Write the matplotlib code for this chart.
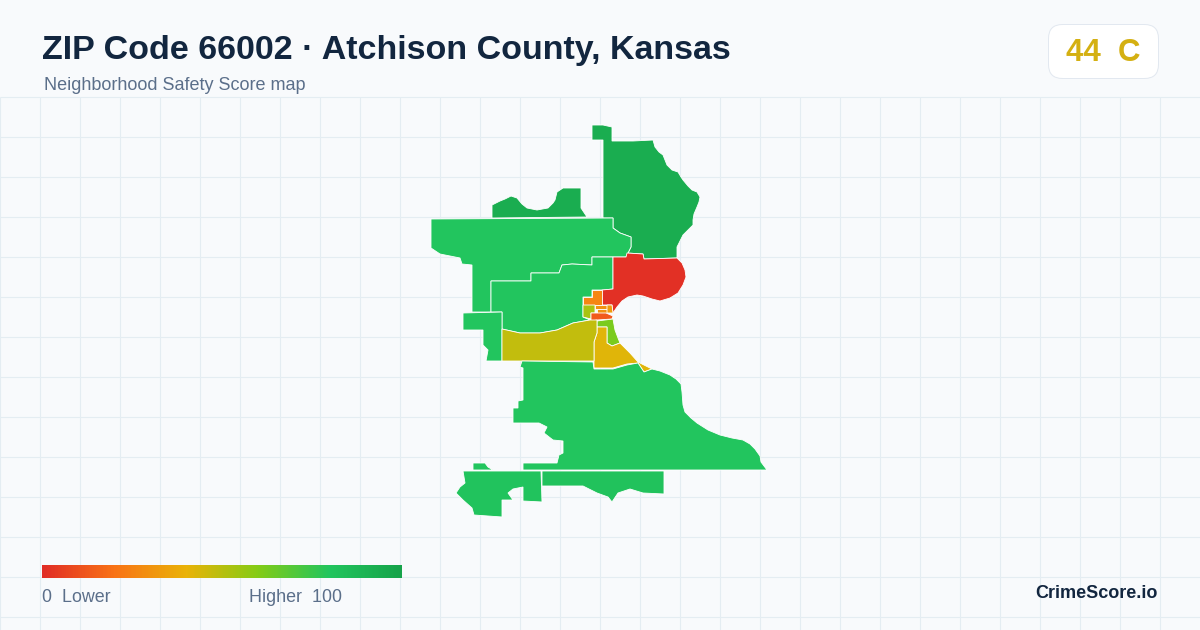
#!/usr/bin/env python3
import matplotlib

matplotlib.use("Agg")
import matplotlib.pyplot as plt
import numpy as np
from matplotlib.colors import LinearSegmentedColormap
from matplotlib.patches import FancyBboxPatch

plt.rcParams["font.family"] = ["Liberation Sans", "DejaVu Sans"]

TITLE = "ZIP Code 66002 · Atchison County, Kansas"
SUBTITLE = "Neighborhood Safety Score map"
SCORE_TEXT = "44  C"
BRAND = "CrimeScore.io"

# legend ramp stops
RAMP_STOPS = [0.0, 0.2, 0.4, 0.6, 0.8, 1.0]
RAMP_COLORS = ["#e12d26", "#f97316", "#eab308", "#84cc16", "#22c55e", "#16a34a"]

# block group outlines, traced in image pixels
north = [(592, 125), (603, 125), (612, 127), (612, 141), (633, 141), (653, 140), (655, 147), (659, 152), (663, 155),
         (665, 160), (667, 165), (672, 170), (678, 172), (681, 177), (683, 180), (688, 186), (692, 190), (697, 192),
         (700, 197), (699, 202), (697, 207), (694, 214), (693, 220), (693, 225), (688, 230), (683, 235), (680, 241),
         (677, 247), (677, 258), (644, 259), (643, 254), (627, 253), (626, 257), (631, 247),
         (631, 237), (620, 233), (613, 228), (613, 218), (603, 218), (603, 140), (592, 140)]
northwest_cap = [(492, 218), (492, 205), (500, 201), (505, 199), (511, 196), (517, 198), (522, 204), (527, 208),
                 (537, 210), (548, 208), (553, 203), (555, 200), (557, 192), (563, 188), (581, 188), (581, 208),
                 (587, 217)]
northwest = [(431, 219), (613, 218), (613, 228), (620, 233), (631, 237), (631, 247), (626, 257), (592, 257),
             (592, 265), (572, 264), (562, 265), (559, 273), (531, 273), (531, 281), (491, 281), (491, 312),
             (472, 312), (472, 265), (462, 264), (460, 258), (450, 256), (440, 254), (431, 248)]
middle = [(491, 281), (531, 281), (531, 273), (559, 273), (562, 265), (572, 264), (592, 265), (592, 257),
          (613, 257), (613, 289), (603, 290), (592, 290), (592, 297), (583, 297), (583, 317), (590, 320),
          (573, 323), (557, 330), (540, 333), (520, 333), (502, 329), (502, 312), (491, 312)]
west = [(463, 313), (502, 312), (502, 361), (486, 361), (488, 350), (483, 345), (483, 330), (463, 330)]
river_red = [(613, 257), (626, 257), (627, 253), (643, 254), (644, 259), (677, 258), (682, 263), (685, 270),
             (686, 277), (683, 285), (678, 293), (670, 298), (660, 301), (652, 299), (643, 296), (637, 295),
             (628, 297), (622, 301), (617, 307), (613, 313), (612, 305), (602, 305), (602, 290), (613, 289)]
orange_a = [(583, 297), (592, 297), (592, 290), (602, 290), (602, 305), (583, 305)]
lime_a = [(583, 305), (595, 305), (595, 313), (591, 313), (591, 319), (583, 317)]
orange_b = [(595, 305), (607, 305), (607, 309), (595, 309)]
orange_c = [(597, 309), (607, 309), (607, 313), (597, 313)]
orange_d = [(607, 305), (612, 305), (613, 313), (607, 313)]
red_orange = [(591, 313), (606, 313), (613, 316), (612, 319), (597, 320), (591, 321)]
lime_b = [(597, 327), (597, 321), (613, 319), (615, 330), (618, 338), (620, 343), (612, 346), (607, 343), (607, 327)]
yellow = [(597, 327), (607, 327), (607, 343), (612, 346), (620, 343), (630, 353), (638, 362), (652, 369), (644, 372),
          (638, 363), (627, 364), (613, 368), (594, 368), (594, 342), (597, 333)]
olive = [(502, 329), (520, 333), (540, 333), (557, 330), (573, 323), (590, 320), (597, 320), (597, 333),
         (594, 342), (594, 361), (502, 361)]
south = [(522, 361), (593, 362), (594, 369), (613, 369), (627, 365), (638, 363), (644, 372), (652, 369),
         (660, 371), (670, 375), (676, 379), (681, 384), (682, 392), (683, 405), (685, 412), (691, 418), (697, 423),
         (708, 430), (720, 435), (732, 438), (743, 440), (750, 444), (755, 449), (760, 456), (761, 462),
         (767, 470), (523, 470), (523, 463), (557, 463), (559, 455), (563, 453), (563, 441),
         (553, 440), (544, 433), (547, 427), (539, 423), (527, 423), (513, 423), (513, 408), (518, 408),
         (518, 401), (523, 400), (523, 368), (520, 367)]
south_tab = [(473, 463), (485, 463), (488, 467), (493, 470), (473, 470)]
southwest = [(463, 471), (541, 471), (542, 502), (523, 501), (523, 487), (513, 489), (508, 493), (513, 500),
             (502, 500), (502, 517), (488, 516), (474, 515), (472, 508), (463, 500), (456, 493), (460, 487),
             (465, 483)]
south_strip = [(542, 471), (664, 471), (664, 494), (643, 493), (630, 489), (618, 493), (612, 502), (608, 497),
               (597, 493), (583, 486), (542, 486)]

ZONES = [north, northwest_cap, northwest, middle, west, river_red, orange_a, lime_a, orange_b, orange_c,
         orange_d, red_orange, lime_b, yellow, olive, south, south_tab, southwest, south_strip]
# estimated from fill colour against the legend ramp
ZONE_SCORES = [94, 94, 80, 80, 80, 1, 26, 53, 30, 30, 33, 13, 62, 42, 48, 80, 80, 81, 82]

cmap = LinearSegmentedColormap.from_list("safety", list(zip(RAMP_STOPS, RAMP_COLORS)))

fig = plt.figure(figsize=(12, 6.3), dpi=100, facecolor="#f8fafc")
ax = fig.add_axes([0, 0, 1, 1])
ax.set_xlim(0, 1200)
ax.set_ylim(630, 0)
ax.axis("off")

grid_color = "#e4edf2"
ax.vlines(np.arange(0, 1200, 40), 97, 630, color=grid_color, linewidth=0.8, zorder=1)
ax.hlines(np.arange(96.5, 630, 40), 0, 1200, color=grid_color, linewidth=0.8, zorder=1)

for zone, score in zip(ZONES, ZONE_SCORES):
    xs, ys = zip(*zone)
    ax.fill(xs, ys, facecolor=cmap(score / 100), edgecolor="white", linewidth=0.6, zorder=2)

# legend ramp
ramp = np.linspace(0, 1, 360).reshape(1, -1)
ax.imshow(ramp, cmap=cmap, extent=(42, 402, 578, 565), aspect="auto", zorder=3)
ax.set_xlim(0, 1200)
ax.set_ylim(630, 0)
ax.text(42, 598, "0  Lower", fontsize=12.9, color="#5b6f8a", va="center", ha="left", zorder=4)
ax.text(249, 598, "Higher  100", fontsize=12.9, color="#5b6f8a", va="center", ha="left", zorder=4)

ax.text(42, 51, TITLE, fontsize=24.5, fontweight="bold", color="#12263f", va="center", ha="left")
ax.text(44, 86, SUBTITLE, fontsize=12.95, color="#5b6f8a", va="center", ha="left")
ax.text(1158, 594, BRAND, fontsize=13, fontweight="bold", color="#12263f", va="center", ha="right", zorder=4)

badge = FancyBboxPatch((1048.5, 24.5), 110, 54, boxstyle="round,pad=0,rounding_size=14",
                       facecolor="white", edgecolor="#e2e8f0", linewidth=0.72, zorder=3)
ax.add_patch(badge)
ax.text(1103, 53, SCORE_TEXT, fontsize=22.5, fontweight="bold", color="#d4b012", va="center", ha="center", zorder=4)

fig.savefig("out.png", dpi=100, facecolor=fig.get_facecolor())
plt.close(fig)
